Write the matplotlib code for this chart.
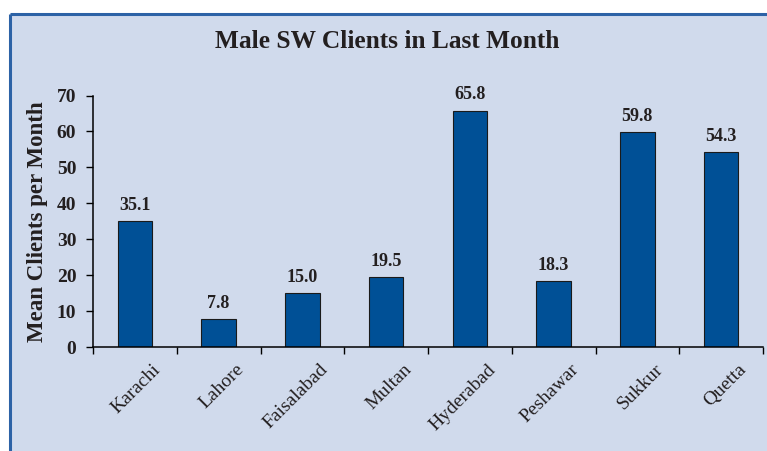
import matplotlib
matplotlib.use("Agg")
import matplotlib.pyplot as plt
from matplotlib.patches import Rectangle
from matplotlib.transforms import ScaledTranslation
import numpy as np

# ---------------------------------------------------------------------
# Data
# ---------------------------------------------------------------------
CITIES = ["Karachi", "Lahore", "Faisalabad", "Multan",
          "Hyderabad", "Peshawar", "Sukkur", "Quetta"]
MEAN_CLIENTS = [35.1, 7.8, 15.0, 19.5, 65.8, 18.3, 59.8, 54.3]
Y_TICKS = [0, 10, 20, 30, 40, 50, 60, 70]

PANEL_BG = "#D0DAEC"
BORDER = "#2C62A6"
BAR_COLOR = "#005096"
TEXT = "#231F20"
SERIF = ["Liberation Serif", "DejaVu Serif"]

plt.rcParams["font.family"] = SERIF

W, H = 767, 451
fig = plt.figure(figsize=(W / 100, H / 100), dpi=100)
fig.patch.set_facecolor("white")

# background layer: shaded panel with blue top/left border
bg = fig.add_axes([0, 0, 1, 1], zorder=0)
bg.set_xlim(0, W)
bg.set_ylim(H, 0)
bg.axis("off")
bg.add_patch(Rectangle((10, 14), W - 10, H - 14, facecolor=PANEL_BG, edgecolor="none"))
bg.plot([10, W], [14, 14], color=BORDER, linewidth=2.2, solid_capstyle="butt")
bg.plot([10, 10], [14, H], color=BORDER, linewidth=2.2, solid_capstyle="butt")

ax = fig.add_axes([93 / W, 1 - 347 / H, (763 - 93) / W, (347 - 95.5) / H], zorder=1)
ax.set_facecolor("none")

x = np.arange(len(CITIES))
ax.bar(x, MEAN_CLIENTS, width=0.41, color=BAR_COLOR, edgecolor="#1a1a1a",
       linewidth=0.8, zorder=2)
for xi, v in zip(x, MEAN_CLIENTS):
    ax.text(xi, v + 2.0, f"{v:.1f}", ha="center", va="bottom",
            fontsize=13, fontweight="bold", color=TEXT)

ax.set_xlim(-0.5, len(CITIES) - 0.5)
ax.set_ylim(0, 70)
ax.set_yticks(Y_TICKS)
ax.set_yticklabels([str(t) for t in Y_TICKS], fontsize=14, fontweight="bold", color=TEXT)

# category ticks sit between bars; city names drawn as slanted text
ax.set_xticks(np.arange(len(CITIES) + 1) - 0.5)
ax.set_xticklabels([])
name_shift = ScaledTranslation(17 / 100, -14 / 100, fig.dpi_scale_trans)
for xi, name in zip(x, CITIES):
    ax.text(xi, 0, name, transform=ax.get_xaxis_transform() + name_shift,
            rotation=45, rotation_mode="anchor", ha="right", va="top",
            fontsize=14, color=TEXT)
ax.tick_params(axis="x", which="major", length=5, direction="out", width=1)
ax.tick_params(axis="y", length=5, width=1, pad=7)

for side in ("top", "right"):
    ax.spines[side].set_visible(False)
for side in ("left", "bottom"):
    ax.spines[side].set_linewidth(1.1)
    ax.spines[side].set_color("black")

ax.set_ylabel("Mean Clients per Month", fontsize=16.5, fontweight="bold",
              color=TEXT, labelpad=6)

fig.text(387 / W, 1 - 42 / H, "Male SW Clients in Last Month", ha="center",
         va="center", fontsize=18.3, fontweight="bold", color=TEXT)

fig.savefig("out.png", dpi=100)
